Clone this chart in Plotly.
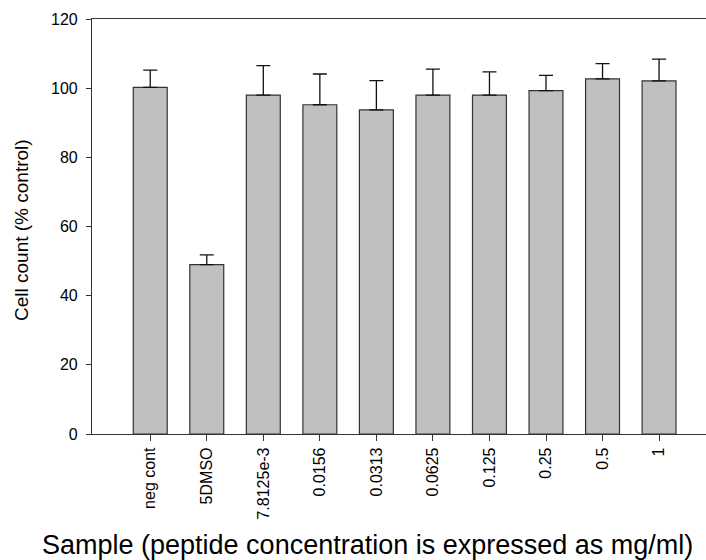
import plotly.graph_objects as go

categories = ["neg cont", "5DMSO", "7.8125e-3", "0.0156", "0.0313",
              "0.0625", "0.125", "0.25", "0.5", "1"]
values = [100.2, 49.0, 98.0, 95.2, 93.7, 98.0, 98.0, 99.3, 102.7, 102.1]
errors = [5.0, 2.8, 8.5, 8.9, 8.5, 7.5, 6.7, 4.4, 4.4, 6.3]
y_ticks = [0, 20, 40, 60, 80, 100, 120]

positions = list(range(len(categories)))
FONT = "Liberation Sans, Arial, sans-serif"

fig = go.Figure()
fig.add_trace(go.Bar(
    x=positions,
    y=values,
    width=0.6,
    marker=dict(color="#C0C0C0", line=dict(color="#333333", width=1.2)),
    error_y=dict(type="data", symmetric=False, array=errors,
                 arrayminus=[0] * len(errors),
                 color="#111111", thickness=1.3, width=7),
    showlegend=False,
))

fig.update_layout(
    width=706, height=560,
    margin=dict(l=92, r=0, t=19, b=126),
    plot_bgcolor="white", paper_bgcolor="white",
    font=dict(family=FONT, size=16, color="#000000"),
    bargap=0.4,
)
fig.update_xaxes(
    range=[-1.03, 9.83],
    tickmode="array", tickvals=positions, ticktext=categories,
    tickangle=-90,
    showline=True, linecolor="#333333", linewidth=1.2, mirror=True,
    ticks="outside", ticklen=6, tickcolor="#333333", tickwidth=1,
    showgrid=False, zeroline=False,
    tickfont=dict(family=FONT, size=16, color="#000000"),
)
fig.update_yaxes(
    range=[0, 120],
    tickmode="array", tickvals=y_ticks,
    showline=True, linecolor="#333333", linewidth=1.2,
    ticks="outside", ticklen=5, tickcolor="#333333", tickwidth=1,
    ticklabelstandoff=5,
    showgrid=False, zeroline=False,
    tickfont=dict(family=FONT, size=16, color="#000000"),
)
fig.add_annotation(
    text="Cell count (% control)", textangle=-90,
    xref="paper", yref="paper", x=(22 - 92) / 614, y=(434 - 230) / 415,
    xanchor="center", yanchor="middle", showarrow=False,
    font=dict(family=FONT, size=19, color="#000000"),
)
fig.add_annotation(
    text="Sample (peptide concentration is expressed as mg/ml)",
    xref="paper", yref="paper", x=(367 - 92) / 614, y=-(545 - 434) / 415,
    xanchor="center", yanchor="middle", showarrow=False,
    font=dict(family=FONT, size=27, color="#000000"),
)

fig.write_html("out.html")
